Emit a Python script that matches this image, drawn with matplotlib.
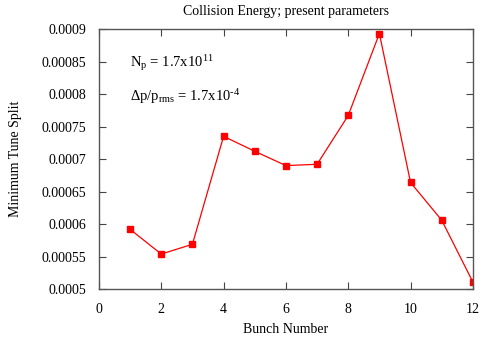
import matplotlib
matplotlib.use("Agg")
import matplotlib.pyplot as plt

plt.rcParams['font.family'] = ['Liberation Serif', 'DejaVu Serif']
plt.rcParams['mathtext.fontset'] = 'custom'
plt.rcParams['mathtext.rm'] = 'Liberation Serif'
plt.rcParams['mathtext.it'] = 'Liberation Serif'

bunch = [1, 2, 3, 4, 5, 6, 7, 8, 9, 10, 11, 12]
tune_split = [0.000592, 0.000554, 0.000569, 0.000735, 0.000712, 0.000690,
              0.000692, 0.000767, 0.000893, 0.000664, 0.000606, 0.000511]

fig = plt.figure(figsize=(4.85, 3.41), dpi=100)
ax = fig.add_axes([0.204, 0.152, 0.771, 0.763])

ax.plot(bunch, tune_split, color='red', lw=0.9, marker='s', markersize=4.2)

ax.set_xlim(0, 12)
ax.set_ylim(0.0005, 0.0009)
ax.set_xticks(range(0, 13, 2))
ax.set_yticks([0.0005, 0.00055, 0.0006, 0.00065, 0.0007, 0.00075, 0.0008, 0.00085, 0.0009])
ax.set_yticklabels(['0.0005', '0.00055', '0.0006', '0.00065', '0.0007',
                    '0.00075', '0.0008', '0.00085', '0.0009'])
ax.tick_params(direction='in', top=True, right=True, length=5, labelsize=10, width=0.8,
               color='#444444')
ax.tick_params(axis='y', pad=9)
ax.tick_params(axis='x', pad=10)
for s in ax.spines.values():
    s.set_color('#555555')
    s.set_linewidth(1.0)

ax.set_xlabel('Bunch Number', fontsize=10, labelpad=5)
ax.set_ylabel('Minimum Tune Split', fontsize=10, labelpad=14)
ax.set_title('Collision Energy; present parameters', fontsize=10, pad=10)

ax.text(0.083, 0.868, r'N$_\mathrm{p}$ = 1.7x10$^{11}$', transform=ax.transAxes,
        fontsize=10.5, va='center')
ax.text(0.083, 0.74, 'Δp/p$_\\mathrm{rms}$ = 1.7x10$^{\u2010 4}$', transform=ax.transAxes,
        fontsize=10.5, va='center')

fig.savefig('out.png', dpi=100)
